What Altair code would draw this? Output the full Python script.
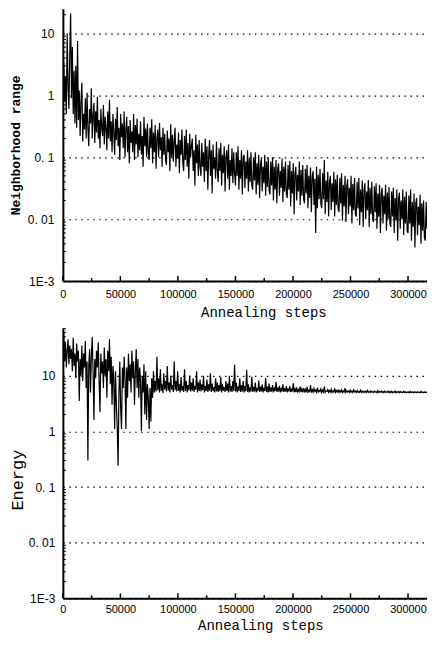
import altair as alt
import pandas as pd

STEP = 750

# Neighborhood range (top panel), one value every 750 annealing steps
range_vals = [
    1.2, 3.5, 0.8, 2.0, 0.5, 10.0, 1.5, 0.6, 4.5, 21.0,
    0.9, 6.0, 0.5, 2.5, 0.35, 3.0, 0.3, 7.5, 0.4, 1.2,
    0.22, 0.8, 1.6, 0.18, 0.5, 0.28, 0.9, 0.2, 1.1, 0.3,
    0.15, 0.6, 0.35, 1.3, 0.2, 0.45, 0.75, 0.17, 0.55, 0.25,
    0.95, 0.2, 0.4, 0.14, 0.6, 0.3, 0.22, 0.7, 0.16, 0.45,
    0.3, 0.13, 0.55, 0.2, 0.85, 0.18, 0.38, 0.12, 0.5, 0.25,
    0.11, 0.42, 0.19, 0.65, 0.15, 0.3, 0.09, 0.5, 0.21, 0.35,
    0.14, 0.55, 0.1, 0.28, 0.45, 0.12, 0.32, 0.08, 0.4, 0.17,
    0.26, 0.12, 0.5, 0.09, 0.33, 0.16, 0.42, 0.1, 0.24, 0.13,
    0.38, 0.11, 0.22, 0.07, 0.45, 0.15, 0.29, 0.1, 0.35, 0.12,
    0.09, 0.3, 0.14, 0.41, 0.08, 0.25, 0.12, 0.33, 0.065, 0.2,
    0.28, 0.1, 0.36, 0.13, 0.21, 0.07, 0.3, 0.11, 0.24, 0.09,
    0.075, 0.27, 0.12, 0.2, 0.06, 0.34, 0.1, 0.23, 0.085, 0.18,
    0.3, 0.07, 0.16, 0.095, 0.25, 0.055, 0.19, 0.11, 0.28, 0.08,
    0.06, 0.22, 0.09, 0.28, 0.07, 0.17, 0.045, 0.24, 0.1, 0.15,
    0.2, 0.06, 0.13, 0.035, 0.23, 0.08, 0.16, 0.05, 0.19, 0.07,
    0.05, 0.17, 0.07, 0.12, 0.04, 0.2, 0.06, 0.15, 0.03, 0.11,
    0.19, 0.05, 0.13, 0.026, 0.16, 0.065, 0.1, 0.045, 0.18, 0.06,
    0.04, 0.14, 0.06, 0.17, 0.035, 0.11, 0.055, 0.15, 0.028, 0.1,
    0.13, 0.045, 0.16, 0.03, 0.09, 0.05, 0.14, 0.038, 0.12, 0.055,
    0.035, 0.12, 0.05, 0.15, 0.03, 0.09, 0.045, 0.13, 0.025, 0.1,
    0.11, 0.032, 0.085, 0.045, 0.13, 0.028, 0.095, 0.04, 0.12, 0.035,
    0.03, 0.1, 0.042, 0.12, 0.025, 0.08, 0.036, 0.11, 0.022, 0.075,
    0.095, 0.028, 0.07, 0.038, 0.11, 0.024, 0.085, 0.033, 0.1, 0.03,
    0.025, 0.085, 0.035, 0.1, 0.02, 0.07, 0.03, 0.09, 0.018, 0.065,
    0.08, 0.024, 0.06, 0.032, 0.095, 0.019, 0.07, 0.028, 0.085, 0.026,
    0.022, 0.075, 0.03, 0.088, 0.016, 0.06, 0.026, 0.08, 0.012, 0.055,
    0.07, 0.02, 0.052, 0.028, 0.085, 0.017, 0.062, 0.024, 0.075, 0.021,
    0.018, 0.065, 0.026, 0.075, 0.015, 0.05, 0.022, 0.068, 0.013, 0.048,
    0.06, 0.017, 0.045, 0.006, 0.07, 0.015, 0.052, 0.021, 0.065, 0.018,
    0.015, 0.055, 0.021, 0.09, 0.012, 0.042, 0.019, 0.058, 0.011, 0.04,
    0.05, 0.014, 0.038, 0.019, 0.058, 0.011, 0.044, 0.017, 0.052, 0.015,
    0.013, 0.046, 0.018, 0.055, 0.0095, 0.036, 0.016, 0.05, 0.009, 0.034,
    0.044, 0.012, 0.032, 0.016, 0.05, 0.0085, 0.037, 0.014, 0.046, 0.012,
    0.011, 0.04, 0.015, 0.046, 0.008, 0.03, 0.013, 0.042, 0.0075, 0.029,
    0.038, 0.01, 0.028, 0.014, 0.043, 0.0075, 0.032, 0.012, 0.04, 0.01,
    0.009, 0.034, 0.013, 0.038, 0.007, 0.026, 0.011, 0.036, 0.006, 0.025,
    0.032, 0.0085, 0.024, 0.012, 0.036, 0.0065, 0.027, 0.01, 0.033, 0.0085,
    0.0075, 0.028, 0.011, 0.032, 0.006, 0.022, 0.0095, 0.03, 0.0045, 0.021,
    0.027, 0.007, 0.02, 0.01, 0.03, 0.0055, 0.023, 0.0085, 0.028, 0.0065,
    0.006, 0.024, 0.0085, 0.03, 0.0045, 0.019, 0.0075, 0.026, 0.0035, 0.018,
    0.022, 0.0055, 0.016, 0.008, 0.025, 0.004, 0.018, 0.0065, 0.02, 0.005,
    0.0045, 0.019, 0.007, 0.022, 0.005, 0.016, 0.0035, 0.021, 0.006, 0.015,
]

# Energy (bottom panel), one value every 750 annealing steps
energy_vals = [
    25, 60, 18, 40, 14, 28, 45, 16, 35, 20,
    30, 12, 48, 15, 25, 9, 38, 18, 28, 3.5,
    20, 10, 35, 8, 25, 14, 42, 6, 18, 0.3,
    15, 30, 5, 22, 50, 12, 1.6, 20, 9, 28,
    14, 40, 8, 2.2, 25, 11, 18, 6, 32, 10,
    20, 4, 28, 12, 45, 7, 22, 3, 15, 9,
    1.1, 12, 3, 1.2, 0.24, 5, 18, 2.5, 1.1, 14,
    6, 22, 9, 1.1, 14, 4, 25, 8, 16, 5,
    28, 9, 18, 3, 12, 30, 6, 20, 4, 14,
    8, 1.0, 10, 5, 16, 2, 12, 1.6, 7, 4,
    1.1, 6, 1.5, 9, 4, 12, 5, 8, 5.2, 22,
    5.5, 9, 5, 13, 5.3, 7, 4.9, 11, 5.6, 8,
    5.2, 15, 5.4, 7.5, 5, 10, 5.6, 6.8, 5.1, 18,
    5.5, 8, 5.2, 12, 5.3, 7, 5, 9.5, 5.4, 6.5,
    5.1, 13, 5.3, 8, 5, 6.8, 5.5, 10, 5.2, 7.5,
    5.4, 9, 5.1, 6.5, 5.6, 12, 5, 7.5, 5.3, 8.5,
    5.2, 7, 5.5, 10, 5, 6.5, 5.3, 8.5, 5.1, 7,
    5.4, 11, 5.1, 7.2, 5.3, 6.2, 5, 9, 5.2, 7.5,
    5.1, 6.8, 5.3, 9.5, 5, 7, 5.4, 6.2, 5.1, 8,
    5.3, 7.2, 5, 10, 5.2, 6.5, 5.1, 8, 5.3, 15.7,
    5.2, 7.5, 5, 6.4, 5.3, 9, 5.1, 6.8, 5.2, 8,
    5, 6.5, 5.3, 12.8, 5.1, 7, 5, 6.2, 5.2, 9.6,
    5.1, 6.3, 5.2, 7.5, 5, 6, 5.3, 8.2, 5.1, 6.4,
    5.2, 7, 5, 6.1, 5.3, 9.2, 5.1, 6.4, 5, 7.2,
    5.1, 6.2, 5.2, 6.8, 5, 5.9, 5.3, 7.8, 5.1, 6.1,
    5.2, 6.6, 5, 5.8, 5.2, 7, 5.1, 6, 5.2, 6.5,
    5, 5.9, 5.2, 6.5, 5.1, 5.7, 5.2, 7.3, 5, 5.8,
    5.1, 6.2, 5, 5.6, 5.2, 6.4, 5.1, 5.8, 5, 6,
    5.2, 5.7, 5, 6.3, 5.1, 5.5, 5.2, 6.8, 5, 5.6,
    5.1, 5.9, 5.2, 5.5, 5, 6.1, 5.1, 5.4, 5.2, 5.8,
    5, 5.5, 5.1, 6.4, 5, 5.3, 5.2, 5.6, 5, 5.4,
    5.1, 5.7, 5, 5.3, 5.1, 5.9, 5, 5.4, 5.1, 5.5,
    5, 5.4, 5.1, 5.6, 5, 5.3, 5.1, 6, 5, 5.4,
    5.1, 5.3, 5, 5.5, 5.05, 5.3, 5, 5.6, 5.1, 5.3,
    5, 5.4, 5.05, 5.2, 5, 5.5, 5.05, 5.3, 5, 5.25,
    5.05, 5.3, 5, 5.45, 5.05, 5.2, 5, 5.35, 5.05, 5.2,
    5, 5.3, 5.05, 5.2, 4.95, 5.4, 5, 5.2, 5.05, 5.3,
    5, 5.2, 4.95, 5.3, 5, 5.15, 5.05, 5.25, 4.95, 5.2,
    5, 5.25, 4.95, 5.15, 5, 5.3, 4.95, 5.15, 5, 5.2,
    4.95, 5.2, 5, 5.1, 4.95, 5.25, 5, 5.15, 4.95, 5.1,
    5, 5.15, 4.95, 5.2, 5, 5.1, 4.95, 5.15, 5, 5.1,
    4.95, 5.15, 5, 5.05, 4.95, 5.2, 5, 5.1, 4.95, 5.1,
    5, 5.1, 4.95, 5.05, 5, 5.1, 4.95, 5.05, 5, 5.05,
]

x_tick_values = [0, 50000, 100000, 150000, 200000, 250000, 300000]
x_minor_values = [25000, 75000, 125000, 175000, 225000, 275000]
y_tick_values = [0.001, 0.01, 0.1, 1, 10]
y_tick_labels = ["1E-3", "0. 01", "0. 1", "1", "10"]
y_minor_top = [m * d for d in (0.001, 0.01, 0.1, 1) for m in range(2, 10)] + [20]
y_minor_bottom = [m * d for d in (0.001, 0.01, 0.1, 1) for m in range(2, 10)] + [20, 30, 40, 50, 60, 70]

label_expr = "".join(
    f"abs(datum.value - {v}) < {v * 1e-6} ? '{lab}' : " for v, lab in zip(y_tick_values, y_tick_labels)
) + "''"

TICK_FONT = "Liberation Sans"
TITLE_FONT = "Liberation Mono"
XMAX = 316500
PLOT_W = 365


def panel(values, ytitle, ymax, height, title_x, xlab_pad, xtitle_pad,
          ytitle_size, ytitle_weight, ytitle_pad, ylab_pad, ytitle_y, px_per_decade, minors):
    steps = [i * STEP for i in range(len(values))]
    df = pd.DataFrame({"step": steps, "value": values})
    xs = alt.Scale(domain=[0, XMAX], nice=False, zero=False)
    ys = alt.Scale(type="log", domain=[0.001, ymax], nice=False)
    xaxis = alt.Axis(values=x_tick_values, format="d", ticks=False, tickSize=0,
                     labelPadding=xlab_pad, labelFont=TICK_FONT, labelFontSize=11,
                     labelColor="black", labelFlush=False,
                     titleFont=TITLE_FONT, titleFontSize=14, titleFontWeight="normal",
                     titleColor="black", titlePadding=xtitle_pad, titleX=title_x,
                     domainColor="black", domainWidth=2, grid=False)
    yopts = dict(values=y_tick_values, labelExpr=label_expr, ticks=False, tickSize=0,
                 labelPadding=ylab_pad, labelFont=TICK_FONT, labelFontSize=12,
                 labelColor="black",
                 titleFont=TITLE_FONT, titleFontSize=ytitle_size, titleFontWeight=ytitle_weight,
                 titleColor="black", titlePadding=ytitle_pad,
                 domainColor="black", domainWidth=2,
                 grid=True, gridColor="black", gridDash=[1.5, 4.5], gridWidth=1.2)
    if ytitle_y is not None:
        yopts["titleY"] = ytitle_y
    yaxis = alt.Axis(**yopts)
    xt = "Annealing steps"

    line = alt.Chart(df).mark_line(color="black", strokeWidth=1.2, clip=True).encode(
        x=alt.X("step:Q", scale=xs, title=xt, axis=xaxis),
        y=alt.Y("value:Q", scale=ys, title=ytitle, axis=yaxis),
    )

    # inward minor ticks on the y axis
    ytick_df = pd.DataFrame({"y": [v for v in minors if v <= ymax]})
    ytick_df["x0"] = 0
    ytick_df["x1"] = 2600
    yticks = alt.Chart(ytick_df).mark_rule(color="black", strokeWidth=1).encode(
        x=alt.X("x0:Q", scale=xs, title=xt, axis=xaxis), x2="x1:Q",
        y=alt.Y("y:Q", scale=ys, title=ytitle, axis=yaxis),
    )

    # inward ticks on the x axis
    major_len = 10 ** (5 / px_per_decade)
    minor_len = 10 ** (3 / px_per_decade)
    xtick_df = pd.DataFrame({
        "x": x_tick_values + x_minor_values,
        "y0": [0.001] * (len(x_tick_values) + len(x_minor_values)),
        "y1": [0.001 * major_len] * len(x_tick_values) + [0.001 * minor_len] * len(x_minor_values),
    })
    xticks = alt.Chart(xtick_df).mark_rule(color="black", strokeWidth=1.5).encode(
        x=alt.X("x:Q", scale=xs, title=xt, axis=xaxis),
        y=alt.Y("y0:Q", scale=ys, title=ytitle, axis=yaxis), y2="y1:Q",
    )

    return alt.layer(line, yticks, xticks).properties(width=PLOT_W, height=height)


top = panel(range_vals, "Neighborhood range", 25, 273, 201, 7, 6,
            13, "bold", 5, 9, None, 62, y_minor_top)
bottom = panel(energy_vals, "Energy", 72, 271, 198, 5, 4,
               17, "normal", 2, 8, 152, 56, y_minor_bottom)

chart = alt.concat(top, bottom, columns=1, spacing=9).properties(
    padding=0, background="white"
).configure_view(stroke=None)

chart.save("out.html", embed_options={"renderer": "svg", "actions": False})
